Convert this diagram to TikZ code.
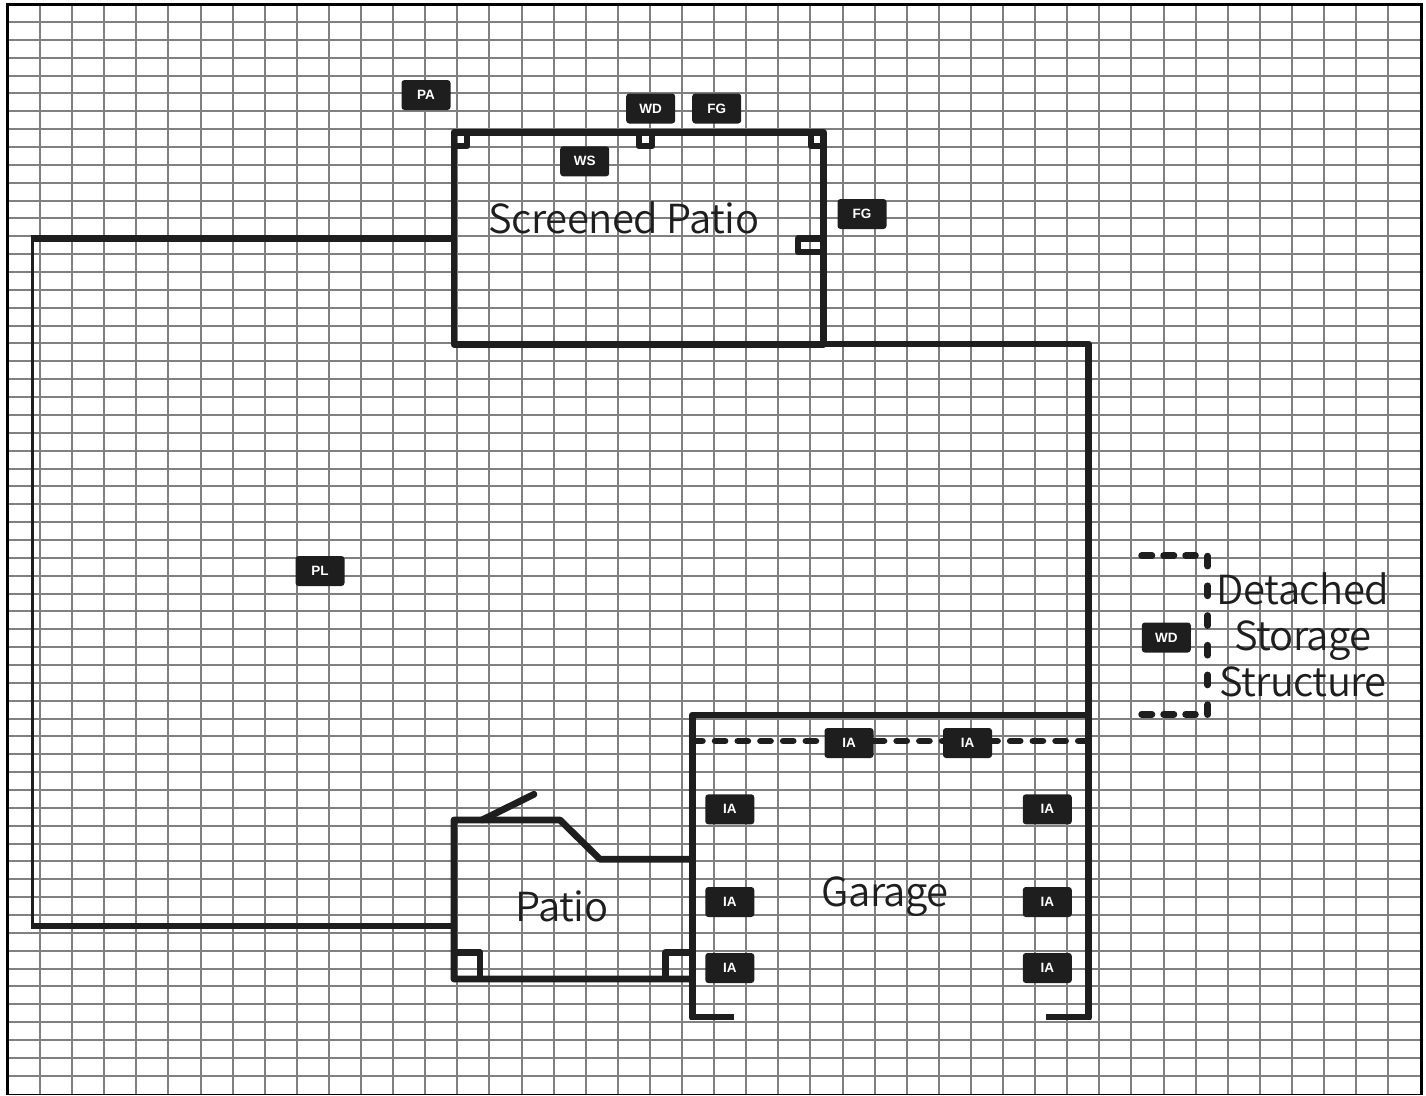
\documentclass[tikz,border=0pt]{standalone}
\usepackage{fontspec}
\newfontfamily\labelfont[LetterSpace=-1.3]{Noto Sans CJK SC DemiLight}
\setmainfont{Liberation Serif}
\newfontfamily\tagfont{Liberation Sans}
\definecolor{ink}{HTML}{1E1E1E}
\definecolor{gridgray}{HTML}{808080}
\tikzset{
  wall/.style={draw=ink,line width=6.8pt,line join=round},
  thinwall/.style={draw=ink,line width=3.5pt},
  dashh/.style={draw=ink,line width=6.5pt,line cap=round,dash pattern=on 10.5pt off 11.5pt},
  dashv/.style={draw=ink,line width=6.5pt,line cap=round,dash pattern=on 10.2pt off 19.5pt},
  tag/.style={fill=ink,rounded corners=3pt,minimum width=49pt,minimum height=30pt,inner sep=0pt,text=white,font=\tagfont\bfseries\fontsize{13.5}{13.5}\selectfont},
  roomlabel/.style={text=ink,align=center,inner sep=0pt,font=\labelfont\fontsize{40}{46}\selectfont},
}
\begin{document}
\begin{tikzpicture}[x=1pt,y=-1pt]
\useasboundingbox (0,0) rectangle (1426,1095);
% grid
\foreach \k in {0,...,42} \draw[gridgray,line width=2pt] ({7.9+32.1*(\k+1)},4) -- ({7.9+32.1*(\k+1)},1094);
\foreach \k in {0,...,59} \draw[gridgray,line width=2pt] (8,{22+17.86*\k}) -- (1421,{22+17.86*\k});
\draw[black,line width=3pt] (7.5,1095) -- (7.5,4) -- (1421.3,4) -- (1421.3,1095);
\draw[black,line width=1.5pt] (7.5,1094.6) -- (1421.3,1094.6);
% main outline
\draw[wall] (824,344) -- (1088.5,344) -- (1088.5,1017);
\draw[wall] (454,238.6) -- (31,238.6);
\draw[wall] (454,926) -- (31,926);
\draw[thinwall] (32.7,235.5) -- (32.7,929.4);
% screened patio
\draw[wall] (454,132.3) rectangle (823.7,344.3);
\draw[wall] (454,146) -- (467,146) -- (467,132);
\draw[wall] (639,132) -- (639,146) -- (652,146) -- (652,132);
\draw[wall] (811,132) -- (811,146) -- (823.7,146);
\draw[wall] (823.7,238.7) -- (798,238.7) -- (798,252) -- (823.7,252);
% patio
\draw[wall] (692,859.3) -- (600,859.3) -- (560,820) -- (454,820) -- (454,979) -- (692,979);
\draw[wall,line cap=round] (482,820) -- (534,794.3);
\draw[wall] (454,952.3) -- (480,952.3) -- (480,979);
\draw[wall] (692,952.3) -- (665.7,952.3) -- (665.7,979);
% garage
\begin{scope}
\clip (600,700) rectangle (1200,1019);
\draw[wall] (1088.5,715) -- (692.3,715) -- (692.3,1017.5) -- (734,1017.5);
\draw[wall] (1046,1017.5) -- (1088.5,1017.5) -- (1088.5,715);
\end{scope}
\draw[dashh,dash pattern=on 10.2pt off 12.5pt] (692.3,741) -- (1088.5,741);
% detached storage
\draw[dashh] (1141.5,555.7) -- (1195.5,555.7);
\draw[dashh] (1141.5,714.3) -- (1195.5,714.3);
\draw[dashv] (1207.7,556) -- (1207.7,715.5);
% tags
\node[tag] (pa) at (426,95) {PA};
\node[tag] (wda) at (650.7,108.5) {WD};
\node[tag] (fga) at (716.7,108.5) {FG};
\node[tag] (ws) at (584.7,161.3) {WS};
\node[tag] (fgb) at (862,214) {FG};
\node[tag] (pl) at (320,571) {PL};
\node[tag] (wdb) at (1166.3,637.5) {WD};
\node[tag] (iaa) at (849,743) {IA};
\node[tag] (iab) at (967.5,743) {IA};
\node[tag] (iac) at (729.8,809.3) {IA};
\node[tag] (iad) at (729.8,902) {IA};
\node[tag] (iae) at (729.8,968) {IA};
\node[tag] (iaf) at (1047.3,809.3) {IA};
\node[tag] (iag) at (1047.3,902) {IA};
\node[tag] (iah) at (1047.3,968) {IA};
% room labels
\node[roomlabel] (screened) at (624,218) {Screened Patio};
\node[roomlabel] (patio) at (562,906.5) {Patio};
\node[roomlabel] (garage) at (885,897) {Garage};
\node[roomlabel] (storage) at (1303,635) {Detached\\Storage\\Structure};
\end{tikzpicture}
\end{document}
